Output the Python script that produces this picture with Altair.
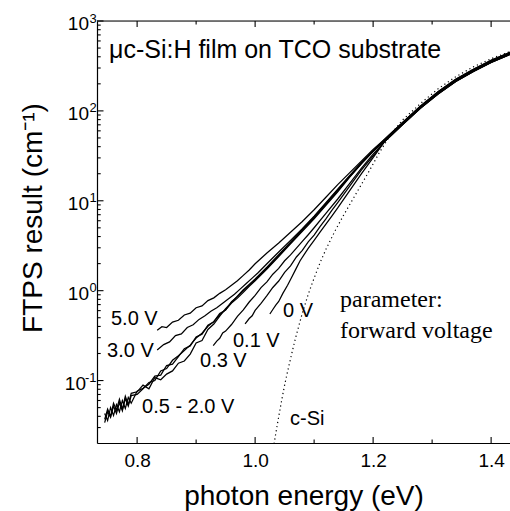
import altair as alt
import pandas as pd

# ---------------- data ----------------
TAIL_E = [1.22, 1.25, 1.28, 1.31, 1.34, 1.37, 1.40, 1.43, 1.44]
TAIL_UPPER = [48.64, 74.47, 112.7, 162.9, 224.9, 289.7, 364.8, 443.6, 469.9]
TAIL_MIDDLE = [47.32, 72.44, 109.6, 158.5, 218.8, 281.8, 354.8, 431.5, 457.1]
TAIL_LOWER = [46.03, 70.47, 106.7, 154.2, 212.8, 274.2, 345.1, 419.8, 444.6]

E_5V = [0.834, 0.842, 0.850, 0.860, 0.870, 0.880, 0.890, 0.900, 0.910, 0.920, 0.930, 0.940, 0.950, 0.960,
        0.970, 0.980, 0.990, 1.000, 1.020, 1.040, 1.060, 1.080, 1.100, 1.120, 1.140, 1.160, 1.180, 1.200]
V_5V = [0.363, 0.398, 0.389, 0.447, 0.468, 0.537, 0.562, 0.646, 0.676, 0.776, 0.832, 0.933, 1.023, 1.148,
        1.288, 1.479, 1.698, 1.995, 2.630, 3.388, 4.467, 5.888, 7.943, 10.96, 15.14, 20.42, 27.54, 37.15]

E_3V = [0.834, 0.845, 0.855, 0.865, 0.875, 0.885, 0.895, 0.905, 0.915, 0.925, 0.935, 0.945, 0.955, 0.965,
        0.975, 0.985, 0.995, 1.005, 1.020, 1.040, 1.060, 1.080, 1.100, 1.120, 1.140, 1.160, 1.180, 1.200]
V_3V = [0.219, 0.251, 0.269, 0.316, 0.331, 0.389, 0.417, 0.479, 0.525, 0.589, 0.646, 0.724, 0.813, 0.912,
        1.047, 1.202, 1.380, 1.585, 1.995, 2.692, 3.631, 4.898, 6.761, 9.550, 13.49, 19.05, 26.30, 35.89]

E_BUNDLE = [0.745, 0.750, 0.755, 0.760, 0.765, 0.770, 0.775, 0.780, 0.785, 0.790, 0.800, 0.810, 0.820, 0.830,
            0.840, 0.850, 0.860, 0.870, 0.880, 0.890, 0.900, 0.910, 0.920, 0.930, 0.940, 0.950, 0.960, 0.970,
            0.980, 0.990, 1.000, 1.020, 1.040, 1.060, 1.080, 1.100, 1.120, 1.140, 1.160, 1.180, 1.200]
V_05 = [0.0340, 0.0450, 0.0390, 0.0520, 0.0430, 0.0570, 0.0460, 0.0630, 0.0520, 0.0680, 0.0700, 0.0810, 0.0950,
        0.100, 0.128, 0.136, 0.168, 0.189, 0.216, 0.248, 0.297, 0.336, 0.402, 0.452, 0.540, 0.612, 0.728, 0.826,
        0.958, 1.118, 1.288, 1.738, 2.399, 3.311, 4.571, 6.310, 8.913, 12.59, 18.20, 25.70, 35.48]
V_10 = [0.0430, 0.0360, 0.0500, 0.0410, 0.0540, 0.0450, 0.0600, 0.0490, 0.0650, 0.0560, 0.0760, 0.0820, 0.0910,
        0.112, 0.115, 0.147, 0.152, 0.185, 0.226, 0.243, 0.305, 0.328, 0.412, 0.452, 0.556, 0.609, 0.752, 0.858,
        0.995, 1.152, 1.318, 1.778, 2.455, 3.388, 4.677, 6.457, 9.120, 12.88, 18.41, 26.00, 35.48]
V_20 = [0.0370, 0.0480, 0.0400, 0.0560, 0.0470, 0.0620, 0.0480, 0.0670, 0.0540, 0.0720, 0.0750, 0.0890, 0.0810,
        0.108, 0.102, 0.118, 0.128, 0.156, 0.165, 0.197, 0.262, 0.279, 0.370, 0.425, 0.522, 0.631, 0.741, 0.871,
        1.023, 1.175, 1.349, 1.820, 2.512, 3.467, 4.786, 6.607, 9.333, 13.18, 18.62, 26.30, 35.89]

E_03 = [0.929, 0.935, 0.940, 0.945, 0.950, 0.960, 0.970, 0.980, 0.990, 1.000, 1.010, 1.020, 1.030, 1.040,
        1.050, 1.060, 1.070, 1.080, 1.090, 1.100, 1.120, 1.140, 1.160, 1.180, 1.200]
V_03 = [0.245, 0.275, 0.295, 0.339, 0.355, 0.420, 0.518, 0.610, 0.748, 0.885, 1.080, 1.250, 1.525, 1.770,
        2.150, 2.500, 2.970, 3.530, 4.190, 5.012, 7.244, 10.47, 15.49, 22.91, 33.11]

E_01 = [0.983, 0.990, 0.995, 1.000, 1.010, 1.020, 1.030, 1.040, 1.050, 1.060, 1.070, 1.080, 1.090, 1.100,
        1.110, 1.120, 1.130, 1.140, 1.160, 1.180, 1.200]
V_01 = [0.427, 0.490, 0.525, 0.603, 0.724, 0.880, 1.085, 1.280, 1.600, 1.890, 2.370, 2.800, 3.490, 4.150,
        5.160, 6.280, 7.800, 9.550, 14.45, 21.88, 31.62]

E_00 = [1.025, 1.030, 1.035, 1.040, 1.047, 1.055, 1.062, 1.069, 1.076, 1.083, 1.090, 1.100, 1.110, 1.120,
        1.130, 1.140, 1.160, 1.180, 1.200]
V_00 = [0.550, 0.617, 0.692, 0.759, 0.933, 1.148, 1.413, 1.738, 2.138, 2.512, 2.951, 3.631, 4.467, 5.495,
        6.761, 8.318, 12.88, 19.95, 30.20]

E_CSI = [1.031, 1.035, 1.040, 1.045, 1.050, 1.055, 1.060, 1.065, 1.070, 1.075, 1.080, 1.090, 1.100, 1.110,
         1.120, 1.135, 1.150, 1.165, 1.180, 1.195, 1.210, 1.230, 1.250, 1.280, 1.310, 1.340, 1.370, 1.400,
         1.430, 1.440]
V_CSI = [0.0178, 0.0257, 0.0398, 0.0603, 0.0891, 0.126, 0.174, 0.240, 0.324, 0.427, 0.562, 0.912, 1.380, 2.042,
         2.884, 4.571, 6.918, 10.23, 15.14, 22.39, 33.88, 54.95, 79.43, 120.2, 175.8, 239.9, 309.0, 380.2,
         451.9, 478.6]

LABELS = ["5.0 V", "3.0 V", "0.5 - 2.0 V", "0.3 V", "0.1 V", "0 V", "c-Si"]
LABEL_E = [0.7557, 0.749, 0.8083, 0.9066, 0.9625, 1.0473, 1.0591]
LABEL_V = [0.415, 0.183, 0.0436, 0.1417, 0.2366, 0.509, 0.0321]

NOTE = ["parameter:", "forward voltage"]
NOTE_E = [1.1439, 1.1439]
NOTE_V = [0.659, 0.298]

TITLE = ["\u03bcc-Si:H film on TCO substrate"]
TITLE_E = [0.7523]
TITLE_V = [387]

X_MAJOR = [0.8, 1.0, 1.2, 1.4]
X_MINOR = [0.9, 1.1, 1.3]
Y_MAJOR = [0.1, 1, 10, 100, 1000]
Y_MINOR = [0.03, 0.04, 0.05, 0.06, 0.07, 0.08, 0.09,
           0.2, 0.3, 0.4, 0.5, 0.6, 0.7, 0.8, 0.9,
           2, 3, 4, 5, 6, 7, 8, 9,
           20, 30, 40, 50, 60, 70, 80, 90,
           200, 300, 400, 500, 600, 700, 800, 900]
POS_DECADES = [1, 10, 100, 1000]
POS_EXP = ["0", "1", "2", "3"]
NEG_DECADES = [0.1]
NEG_EXP = ["-1"]

# ---------------- tables ----------------
series = [
    ("5.0 V", E_5V, V_5V, TAIL_UPPER),
    ("3.0 V", E_3V, V_3V, TAIL_UPPER),
    ("0.5 V", E_BUNDLE, V_05, TAIL_MIDDLE),
    ("1.0 V", E_BUNDLE, V_10, TAIL_MIDDLE),
    ("2.0 V", E_BUNDLE, V_20, TAIL_MIDDLE),
    ("0.3 V", E_03, V_03, TAIL_LOWER),
    ("0.1 V", E_01, V_01, TAIL_LOWER),
    ("0 V", E_00, V_00, TAIL_LOWER),
]
rows = []
for name, es, vs, tail in series:
    for e, v in zip(es, vs):
        rows.append({"series": name, "E": e, "V": v})
    for e, v in zip(TAIL_E, tail):
        rows.append({"series": name, "E": e, "V": v})
df = pd.DataFrame(rows)
df_csi = pd.DataFrame({"E": E_CSI, "V": V_CSI})
df_lab = pd.DataFrame({"E": LABEL_E, "V": LABEL_V, "t": LABELS})
df_note = pd.DataFrame({"E": NOTE_E, "V": NOTE_V, "t": NOTE})
df_title = pd.DataFrame({"E": TITLE_E, "V": TITLE_V, "t": TITLE})

W, H = 413, 422
FONT = "Liberation Sans"
xs = alt.Scale(domain=[0.732, 1.432], nice=False, zero=False)
ys = alt.Scale(type="log", domain=[0.0202, 1000], nice=False)

x_axis = alt.Axis(values=X_MAJOR, format=".1f", ticks=False, tickSize=0, grid=False,
                  labelFont=FONT, labelFontSize=19, labelColor="black", labelPadding=8,
                  labelFlush=False, labelOverlap=False,
                  domainColor="black", domainWidth=1.2,
                  title="photon energy (eV)", titleFont=FONT, titleFontSize=28,
                  titleFontWeight="normal", titleColor="black",
                  titleBaseline="alphabetic", titleY=61, titleX=W / 2)
y_axis = alt.Axis(labels=False, ticks=False, tickSize=0, title="", grid=False,
                  domainColor="black", domainWidth=1.2)


def X(field):
    return alt.X(field, scale=xs, axis=x_axis)


def Y(field):
    return alt.Y(field, scale=ys, axis=y_axis)


lines = alt.Chart(df).mark_line(color="black", strokeWidth=1.25, clip=True).encode(
    x=X("E:Q"), y=Y("V:Q"), detail="series:N",
)
csi = alt.Chart(df_csi).mark_line(color="black", strokeWidth=1.2, strokeDash=[1.2, 3], clip=True).encode(
    x=X("E:Q"), y=Y("V:Q"),
)
labels = alt.Chart(df_lab).mark_text(font=FONT, fontSize=20, align="left", baseline="alphabetic",
                                     color="black").encode(x=X("E:Q"), y=Y("V:Q"), text="t:N")
notes = alt.Chart(df_note).mark_text(font="Liberation Serif", fontSize=24, align="left",
                                     baseline="alphabetic", color="black").encode(
    x=X("E:Q"), y=Y("V:Q"), text="t:N")
title = alt.Chart(df_title).mark_text(font=FONT, fontSize=25, align="left", baseline="alphabetic",
                                      color="black").encode(x=X("E:Q"), y=Y("V:Q"), text="t:N")

# ticks pointing inward
xt_major_b = alt.Chart(pd.DataFrame({"E": X_MAJOR})).mark_rule(color="black", strokeWidth=1.1).encode(
    x=X("E:Q"), y=alt.value(H), y2=alt.value(H - 6))
xt_minor_b = alt.Chart(pd.DataFrame({"E": X_MINOR})).mark_rule(color="black", strokeWidth=1.1).encode(
    x=X("E:Q"), y=alt.value(H), y2=alt.value(H - 3.5))
xt_major_t = alt.Chart(pd.DataFrame({"E": X_MAJOR})).mark_rule(color="black", strokeWidth=1.1).encode(
    x=X("E:Q"), y=alt.value(0), y2=alt.value(6))
xt_minor_t = alt.Chart(pd.DataFrame({"E": X_MINOR})).mark_rule(color="black", strokeWidth=1.1).encode(
    x=X("E:Q"), y=alt.value(0), y2=alt.value(3.5))
yt_major = alt.Chart(pd.DataFrame({"V": Y_MAJOR})).mark_rule(color="black", strokeWidth=1.1).encode(
    y=Y("V:Q"), x=alt.value(0), x2=alt.value(6.5))
yt_minor = alt.Chart(pd.DataFrame({"V": Y_MINOR})).mark_rule(color="black", strokeWidth=1.1).encode(
    y=Y("V:Q"), x=alt.value(0), x2=alt.value(3.7))
top_frame = alt.Chart(pd.DataFrame({"t": [0]})).mark_rule(color="black", strokeWidth=1.2).encode(
    x=alt.value(0), x2=alt.value(W), y=alt.value(0))

# y tick labels: 10 with superscript exponent
pos_df = pd.DataFrame({"V": POS_DECADES, "e": POS_EXP})
neg_df = pd.DataFrame({"V": NEG_DECADES, "e": NEG_EXP})
base_pos = alt.Chart(pos_df).mark_text(font=FONT, fontSize=19, align="right", baseline="alphabetic",
                                       dy=9, color="black").encode(
    y=Y("V:Q"), x=alt.value(-8), text=alt.value("10"))
exp_pos = alt.Chart(pos_df).mark_text(font=FONT, fontSize=13, align="left", baseline="alphabetic",
                                      dy=1.5, color="black").encode(
    y=Y("V:Q"), x=alt.value(-7.5), text="e:N")
base_neg = alt.Chart(neg_df).mark_text(font=FONT, fontSize=19, align="right", baseline="alphabetic",
                                       dy=9, color="black").encode(
    y=Y("V:Q"), x=alt.value(-11), text=alt.value("10"))
exp_neg = alt.Chart(neg_df).mark_text(font=FONT, fontSize=13, align="right", baseline="alphabetic",
                                      dy=1.5, color="black").encode(
    y=Y("V:Q"), x=alt.value(-0.5), text="e:N")

ytitle = alt.Chart(pd.DataFrame({"t": ["FTPS result (cm\u207b\u00b9)"]})).mark_text(
    font=FONT, fontSize=28, angle=270, align="center", baseline="alphabetic", color="black").encode(
    x=alt.value(-55), y=alt.value(197), text="t:N")

chart = alt.layer(
    lines, csi, labels, notes, title,
    xt_major_b, xt_minor_b, xt_major_t, xt_minor_t, yt_major, yt_minor, top_frame,
    base_pos, exp_pos, base_neg, exp_neg, ytitle,
).properties(
    width=W, height=H,
    padding={"left": 97, "top": 21, "right": 0, "bottom": 68},
    autosize=alt.AutoSizeParams(type="none"),
).configure_view(stroke=None).configure(background="white")

chart.save("out.html", embed_options={"renderer": "svg", "actions": False})
